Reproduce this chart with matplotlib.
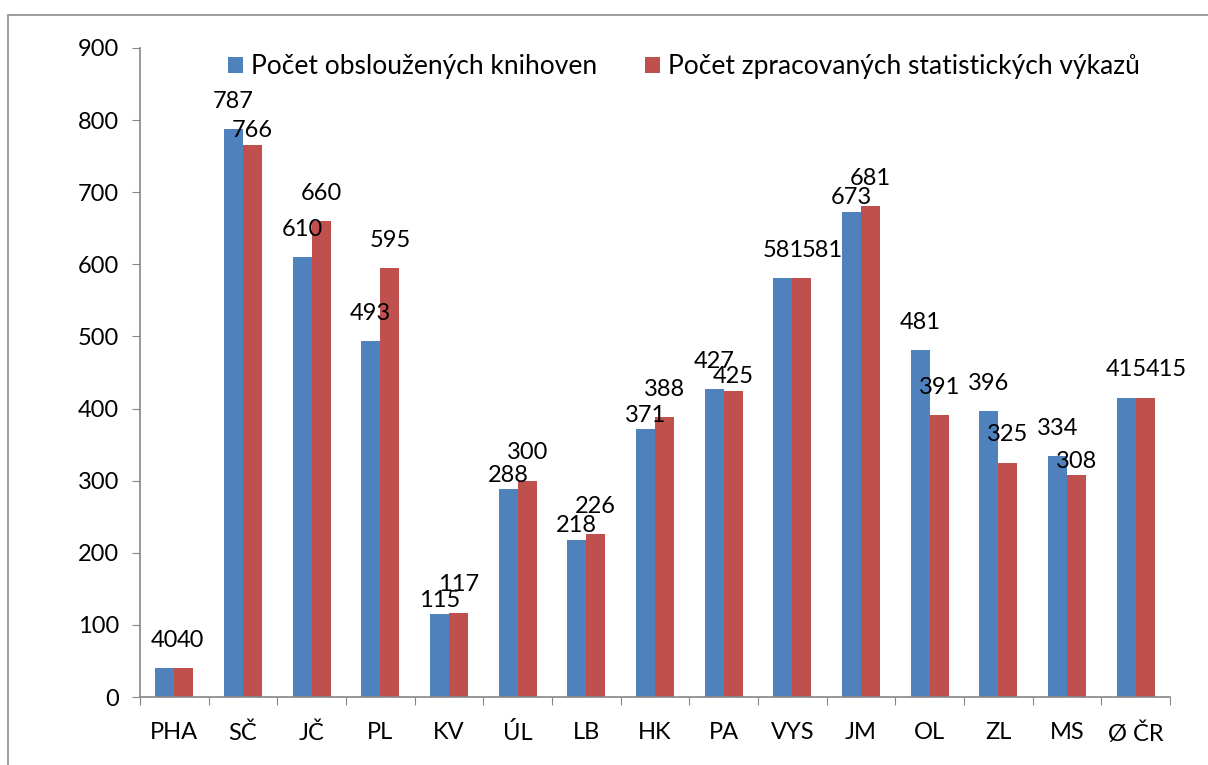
import numpy as np
from matplotlib import pyplot as plt
from matplotlib.patches import Rectangle

plt.rcParams["font.family"] = ["Lato", "DejaVu Sans"]

kraje = ["PHA", "SČ", "JČ", "PL", "KV", "ÚL", "LB", "HK", "PA", "VYS", "JM", "OL", "ZL", "MS", "Ø ČR"]
knihovny = [40, 787, 610, 493, 115, 288, 218, 371, 427, 581, 673, 481, 396, 334, 415]
vykazy = [40, 766, 660, 595, 117, 300, 226, 388, 425, 581, 681, 391, 325, 308, 415]

BLUE = "#4f81bd"
RED = "#c0504d"
GRAY = "#868686"


def main():
    fig = plt.figure(figsize=(12.08, 7.65), dpi=100)
    fig.patches.append(
        Rectangle((8 / 1208, -0.1), 1.2, 1 - 15 / 765 + 0.1, transform=fig.transFigure,
                  fill=False, edgecolor="#8c8c8c", linewidth=1.2)
    )
    ax = fig.add_axes([140 / 1208, 68 / 765, 1030 / 1208, 649 / 765])

    x = np.arange(len(kraje))
    w = 0.277
    b1 = ax.bar(x - w / 2, knihovny, w, color=BLUE, label="Počet obsloužených knihoven")
    b2 = ax.bar(x + w / 2, vykazy, w, color=RED, label="Počet zpracovaných statistických výkazů")

    ax.set_xlim(-0.5, len(kraje) - 0.5)
    ax.set_ylim(0, 900)

    # labels sit above the bars; when the two labels of a pair collide,
    # the lower bar's label is pulled down closer to its bar,
    # equal values are put side by side
    pt_per_unit = ax.bbox.height / 900 * 72 / fig.dpi
    hi, lo = 20, 10
    for a, b in zip(b1, b2):
        ha_, hb_ = a.get_height(), b.get_height()
        off_a, off_b = hi, hi
        if ha_ != hb_ and abs(ha_ - hb_) * pt_per_unit < 14:
            if ha_ < hb_:
                off_a = lo
            else:
                off_b = lo
        ta = ax.annotate(f"{ha_:.0f}", (a.get_x() + a.get_width() / 2, ha_),
                         xytext=(0, off_a), textcoords="offset points",
                         ha="center", va="center", fontsize=17)
        if ha_ == hb_:
            ax.annotate(f"{hb_:.0f}", (1, 0.5), xycoords=ta,
                        xytext=(-1, 0), textcoords="offset points",
                        ha="left", va="center", fontsize=17)
        else:
            ax.annotate(f"{hb_:.0f}", (b.get_x() + b.get_width() / 2, hb_),
                        xytext=(0, off_b), textcoords="offset points",
                        ha="center", va="center", fontsize=17)

    ax.set_yticks(range(0, 901, 100))
    ax.tick_params(axis="y", labelsize=17, length=6, color=GRAY, pad=9)

    ax.set_xticks(np.arange(len(kraje) + 1) - 0.5)
    ax.set_xticklabels([])
    ax.tick_params(axis="x", which="major", length=6, color=GRAY)
    ax.set_xticks(x, minor=True)
    ax.set_xticklabels(kraje, minor=True)
    ax.tick_params(axis="x", which="minor", length=0, labelsize=17, pad=18)

    for side in ("top", "right"):
        ax.spines[side].set_visible(False)
    for side in ("left", "bottom"):
        ax.spines[side].set_color(GRAY)
        ax.spines[side].set_linewidth(1.2)

    ax.legend(loc="upper left", bbox_to_anchor=(0.0854, 0.99), ncol=2, frameon=False,
              fontsize=19, handlelength=0.57, handleheight=0.57, handletextpad=0.3,
              columnspacing=1.8, borderpad=0, borderaxespad=0)

    fig.savefig("out.png", dpi=100)
    plt.close()


if __name__ == "__main__":
    main()
